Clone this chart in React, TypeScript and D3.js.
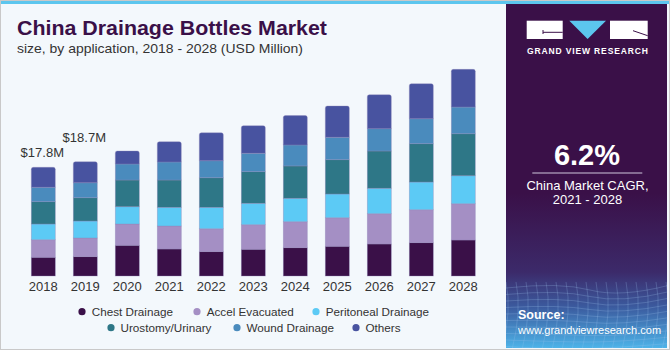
import React from "react";
import * as d3 from "d3";

const years = ["2018", "2019", "2020", "2021", "2022", "2023", "2024", "2025", "2026", "2027", "2028"];
const chestDrainage = [3.06, 3.16, 5.02, 4.42, 3.98, 4.37, 4.63, 4.86, 5.24, 5.45, 5.89];
const accelEvacuated = [2.88, 3.06, 3.49, 3.76, 3.76, 4.03, 4.26, 4.68, 4.96, 5.4, 5.94];
const peritonealDrainage = [2.57, 2.78, 2.83, 3.06, 3.5, 3.5, 3.83, 3.88, 4.16, 4.53, 4.58];
const urostomyUrinary = [3.65, 3.81, 4.37, 4.47, 4.84, 5.17, 5.29, 5.61, 6.1, 6.27, 6.87];
const woundDrainage = [2.36, 2.45, 2.62, 2.95, 2.78, 3.01, 3.44, 3.67, 3.65, 4.09, 4.37];
const others = [3.27, 3.44, 2.13, 3.32, 4.58, 4.52, 4.8, 5.12, 5.56, 5.73, 6.17];

const seriesNames = ["Chest Drainage", "Accel Evacuated", "Peritoneal Drainage", "Urostomy/Urinary", "Wound Drainage", "Others"];
const seriesValues = [chestDrainage, accelEvacuated, peritonealDrainage, urostomyUrinary, woundDrainage, others];
const seriesColors = ["#3a1048", "#a48fc4", "#5ccaf5", "#2e7787", "#4a8bbd", "#4853a0"];

const valueLabels = ["$17.8M", "$18.7M"];

const FONT = "'Liberation Sans', Arial, sans-serif";

export default function App() {
  const W = 670, H = 350;
  const x = d3.scaleBand<string>().domain(years).range([22.3, 484.3]).paddingInner(18 / 42).paddingOuter(9 / 42);
  const y = d3.scaleLinear().domain([0, 35]).range([276, 276 - 6.11 * 35]);

  const rows = years.map((yr, i) => {
    const r: any = { year: yr };
    seriesNames.forEach((s, k) => (r[s] = seriesValues[k][i]));
    return r;
  });
  const stacked = d3.stack<any>().keys(seriesNames)(rows);
  const totals = years.map((_, i) => d3.sum(seriesValues, (s) => s[i]));

  const bw = x.bandwidth();

  const roundTop = (x0: number, y0: number, w: number, h: number, r: number) =>
    `M${x0},${y0 + h}V${y0 + r}Q${x0},${y0} ${x0 + r},${y0}H${x0 + w - r}Q${x0 + w},${y0} ${x0 + w},${y0 + r}V${y0 + h}Z`;

  const legendRow1 = [0, 1, 2];
  const legendRow2 = [3, 4, 5];
  const legendX1 = [82, 197, 316];
  const legendX2 = [111, 237, 356];

  const meshH = d3.range(0, 10).map((i) => 288 + i * 6.5);
  const meshV = d3.range(0, 18).map((i) => 506 + i * 10);

  return (
    <svg width={W} height={H} style={{ position: "absolute", left: 0, top: 0 }} fontFamily={FONT}>
      <defs>
        <linearGradient id="pgrad" x1="0" y1="0" x2="0" y2="1">
          <stop offset="0" stopColor="#3a1048" />
          <stop offset="0.55" stopColor="#3a1048" />
          <stop offset="0.78" stopColor="#3c2a6a" />
          <stop offset="0.88" stopColor="#3b5a9e" />
          <stop offset="1" stopColor="#4db3e8" />
        </linearGradient>
        <clipPath id="meshclip">
          <rect x={506} y={282} width={161} height={66} />
        </clipPath>
      </defs>
      <rect x={0} y={0} width={W} height={H} fill="#f3f8fc" />
      <rect x={0} y={0} width={W} height={4} fill="#5cc6ee" />
      <rect x={506} y={4} width={161} height={344} fill="url(#pgrad)" />
      <g clipPath="url(#meshclip)" stroke="#9fc6ee" strokeOpacity={0.35} strokeWidth={0.7} fill="none">
        {meshH.map((yy, i) => (
          <path key={"h" + i} d={`M506,${yy}Q560,${yy - 6 + i} 590,${yy + 2}T670,${yy - 3}`} />
        ))}
        {meshV.map((xx, i) => (
          <path key={"v" + i} d={`M${xx},282Q${xx + 6},310 ${xx - 4},350`} />
        ))}
      </g>
      <rect x={526.7} y={20.7} width={36} height={18.3} fill="#ffffff" />
      <path d="M543,32.3H562.7" stroke="#3a1048" strokeWidth={1} />
      <path d="M543,30V34" stroke="#3a1048" strokeWidth={1} />
      <path d="M569.3,20.7L606,20.7L587.6,39Z" fill="#5cc6ee" />
      <rect x={610} y={20.7} width={37.7} height={18.3} fill="#ffffff" />
      <path d="M633,30.7L647.7,35.7" stroke="#3a1048" strokeWidth={1} />
      <text x={587.4} y={53.5} fill="#ffffff" fontSize={8.5} fontWeight="bold" textAnchor="middle" textLength={121} lengthAdjust="spacing">
        GRAND VIEW RESEARCH
      </text>
      <text x={587} y={165} fill="#ffffff" fontSize={29} fontWeight="bold" textAnchor="middle">6.2%</text>
      <line x1={532.3} x2={642.3} y1={173} y2={173} stroke="#cfc6dc" strokeWidth={1} />
      <text x={587.5} y={190} fill="#ffffff" fontSize={13} textAnchor="middle">China Market CAGR,</text>
      <text x={587.5} y={203.5} fill="#ffffff" fontSize={13} textAnchor="middle">2021 - 2028</text>
      <text x={518} y={319} fill="#ffffff" fontSize={12.5} fontWeight="bold">Source:</text>
      <text x={518} y={333.5} fill="#ffffff" fontSize={11}>www.grandviewresearch.com</text>

      <text x={17} y={35.3} fill="#3a1048" fontSize={20} fontWeight="bold" textLength={310} lengthAdjust="spacingAndGlyphs">
        China Drainage Bottles Market
      </text>
      <text x={17} y={53.3} fill="#333333" fontSize={13.5} textLength={286} lengthAdjust="spacingAndGlyphs">
        size, by application, 2018 - 2028 (USD Million)
      </text>

      {stacked.map((layer, k) => (
        <g key={layer.key} fill={seriesColors[k]}>
          {layer.map((d, i) => {
            const x0 = x(years[i]) as number;
            const y0 = y(d[1]);
            const h = y(d[0]) - y(d[1]);
            return k === stacked.length - 1 ? (
              <path key={i} d={roundTop(x0, y0, bw, h, 2)} stroke="#8f86b8" strokeOpacity={0.5} strokeWidth={0.7} />
            ) : (
              <rect key={i} x={x0} y={y0} width={bw} height={h} stroke="#8f86b8" strokeOpacity={0.5} strokeWidth={0.7} />
            );
          })}
        </g>
      ))}

      {valueLabels.map((lab, i) => (
        <text key={lab} x={(x(years[i]) as number) + bw / 2 - 1} y={y(totals[i]) - 10 - i * 9.7} fill="#333333" fontSize={13} textAnchor="middle">
          {lab}
        </text>
      ))}

      {years.map((yr) => (
        <text key={yr} x={(x(yr) as number) + bw / 2} y={290.7} fill="#333333" fontSize={13} textAnchor="middle">
          {yr}
        </text>
      ))}

      {legendRow1.map((k, j) => (
        <g key={k}>
          <circle cx={legendX1[j]} cy={311.7} r={3.6} fill={seriesColors[k]} />
          <text x={legendX1[j] + 9.7} y={315.8} fill="#333333" fontSize={11.7}>{seriesNames[k]}</text>
        </g>
      ))}
      {legendRow2.map((k, j) => (
        <g key={k}>
          <circle cx={legendX2[j]} cy={327.7} r={3.6} fill={seriesColors[k]} />
          <text x={legendX2[j] + 9.5} y={331.8} fill="#333333" fontSize={11.7}>{seriesNames[k]}</text>
        </g>
      ))}

      <rect x={0.5} y={0.5} width={W - 1} height={H - 1} fill="none" stroke="#c9c9c9" strokeWidth={1} />
    </svg>
  );
}
